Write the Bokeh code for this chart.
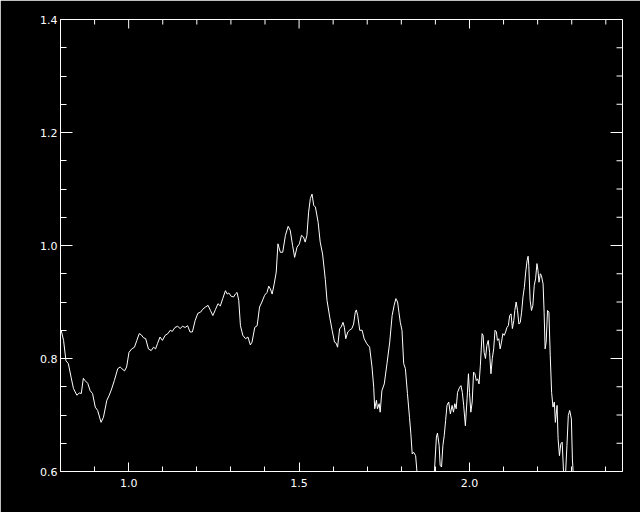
from math import pi
from bokeh.plotting import figure
from bokeh.models import LinearAxis, FixedTicker, Range1d
from bokeh.embed import file_html
from bokeh.resources import INLINE

# Spectrum (wavelength, flux)
wave = [
    0.802, 0.809, 0.816, 0.823, 0.831, 0.838, 0.848, 0.855, 0.861, 0.867,
    0.872, 0.880, 0.887, 0.894, 0.902, 0.909, 0.919, 0.926, 0.936, 0.943,
    0.950, 0.958, 0.968, 0.975, 0.980, 0.988, 0.994, 1.001, 1.009, 1.017,
    1.024, 1.031, 1.037, 1.043, 1.050, 1.058, 1.066, 1.073, 1.079, 1.085,
    1.092, 1.099, 1.107, 1.115, 1.122, 1.128, 1.136, 1.144, 1.151, 1.158,
    1.166, 1.173, 1.180, 1.187, 1.195, 1.203,
    1.211, 1.217, 1.225, 1.233, 1.240, 1.247, 1.255, 1.262, 1.269, 1.276,
    1.284, 1.289, 1.294, 1.301, 1.308, 1.313, 1.318, 1.323, 1.328, 1.335,
    1.343, 1.350, 1.357, 1.362, 1.370, 1.377, 1.384, 1.391, 1.399, 1.406,
    1.411, 1.416, 1.421, 1.427, 1.433, 1.438, 1.445, 1.452, 1.460, 1.468,
    1.474, 1.481, 1.487, 1.494, 1.501, 1.507, 1.513, 1.518, 1.523, 1.528,
    1.533, 1.538, 1.543, 1.548, 1.556, 1.562, 1.569, 1.577, 1.582, 1.590,
    1.597, 1.604, 1.609, 1.613, 1.619, 1.623, 1.629, 1.633, 1.637, 1.643,
    1.648, 1.655, 1.660, 1.665, 1.668, 1.672, 1.678, 1.685, 1.691, 1.699,
    1.707, 1.714, 1.719, 1.722, 1.727, 1.730, 1.735, 1.738, 1.743, 1.750,
    1.758, 1.766, 1.773, 1.779, 1.784, 1.789, 1.793, 1.797, 1.802, 1.807,
    1.812, 1.818, 1.824, 1.828, 1.832, 1.836, 1.842, 1.846, 1.856, 1.885,
    1.897, 1.903, 1.906, 1.911, 1.914, 1.918, 1.922, 1.926, 1.930, 1.934,
    1.939, 1.944, 1.949, 1.953, 1.957, 1.961, 1.965, 1.971, 1.975, 1.979,
    1.983, 1.988, 1.993, 1.997, 2.000, 2.004, 2.008, 2.012, 2.016, 2.020,
    2.024, 2.028, 2.032, 2.037, 2.040, 2.043, 2.047, 2.051, 2.055, 2.059,
    2.063, 2.067, 2.071, 2.075, 2.079, 2.082, 2.086, 2.090, 2.094, 2.098,
    2.102, 2.106, 2.110, 2.114, 2.118, 2.122, 2.126, 2.130, 2.133, 2.137,
    2.141, 2.145, 2.149, 2.153, 2.157, 2.161, 2.165, 2.169, 2.172, 2.174,
    2.178, 2.182, 2.186, 2.190, 2.194, 2.198, 2.201, 2.204, 2.208, 2.211,
    2.216, 2.219, 2.222, 2.225, 2.229, 2.233, 2.237, 2.241, 2.245, 2.249,
    2.252, 2.257, 2.260, 2.264, 2.268, 2.272, 2.276, 2.281, 2.286, 2.290,
    2.294, 2.299, 2.302, 2.305, 2.309,
]
flux = [
    0.850, 0.832, 0.796, 0.791, 0.767, 0.747, 0.735, 0.739, 0.738, 0.765,
    0.761, 0.756, 0.743, 0.738, 0.714, 0.708, 0.687, 0.696, 0.726, 0.735,
    0.746, 0.761, 0.782, 0.785, 0.782, 0.778, 0.785, 0.811, 0.817, 0.820,
    0.832, 0.844, 0.842, 0.837, 0.835, 0.817, 0.814, 0.820, 0.817, 0.827,
    0.838, 0.832, 0.841, 0.844, 0.850, 0.848, 0.855, 0.857, 0.853, 0.857,
    0.855, 0.858, 0.847, 0.847, 0.867, 0.880,
    0.882, 0.887, 0.891, 0.894, 0.885, 0.876, 0.887, 0.897, 0.893, 0.906,
    0.920, 0.914, 0.916, 0.910, 0.909, 0.914, 0.917, 0.903, 0.858, 0.841,
    0.835, 0.838, 0.824, 0.829, 0.855, 0.858, 0.891, 0.900, 0.912, 0.917,
    0.928, 0.923, 0.914, 0.932, 0.953, 1.003, 0.988, 0.988, 1.018, 1.034,
    1.027, 1.000, 0.979, 0.997, 1.003, 1.018, 1.015, 1.006, 1.018, 1.059,
    1.083, 1.091, 1.071, 1.068, 1.041, 1.006, 0.985, 0.940, 0.903, 0.873,
    0.850, 0.829, 0.827, 0.820, 0.853, 0.855, 0.864, 0.855, 0.835, 0.847,
    0.850, 0.853, 0.861, 0.882, 0.886, 0.876, 0.850, 0.850, 0.835, 0.826,
    0.820, 0.785, 0.749, 0.711, 0.726, 0.711, 0.720, 0.705, 0.743, 0.755,
    0.791, 0.829, 0.876, 0.894, 0.906, 0.900, 0.882, 0.864, 0.850, 0.791,
    0.782, 0.738, 0.696, 0.667, 0.631, 0.634, 0.628, 0.599, 0.570, 0.570,
    0.599, 0.661, 0.668, 0.646, 0.611, 0.608, 0.646, 0.664, 0.690, 0.717,
    0.723, 0.702, 0.717, 0.705, 0.720, 0.711, 0.740, 0.749, 0.752, 0.740,
    0.717, 0.681, 0.729, 0.773, 0.740, 0.705, 0.723, 0.776, 0.773, 0.761,
    0.764, 0.755, 0.788, 0.844, 0.841, 0.811, 0.800, 0.823, 0.832, 0.811,
    0.773, 0.800, 0.817, 0.850, 0.847, 0.832, 0.835, 0.817, 0.829, 0.844,
    0.841, 0.847, 0.855, 0.858, 0.876, 0.879, 0.853, 0.867, 0.885, 0.900,
    0.885, 0.861, 0.864, 0.882, 0.909, 0.926, 0.953, 0.973, 0.981, 0.965,
    0.903, 0.885, 0.894, 0.929, 0.941, 0.968, 0.956, 0.935, 0.950, 0.947,
    0.932, 0.882, 0.817, 0.829, 0.885, 0.882, 0.805, 0.740, 0.714, 0.723,
    0.687, 0.717, 0.658, 0.628, 0.649, 0.652, 0.599, 0.585, 0.646, 0.699,
    0.708, 0.693, 0.622, 0.590, 0.570,
]

x_min, x_max = 0.8, 2.449
y_min, y_max = 0.6, 1.4
x_major = [1.0, 1.5, 2.0]
x_minor = [0.9, 1.1, 1.2, 1.3, 1.4, 1.6, 1.7, 1.8, 1.9, 2.1, 2.2, 2.3, 2.4]
x_labels = ["1.0", "1.5", "2.0"]
y_major = [0.6, 0.8, 1.0, 1.2, 1.4]
y_minor = [0.65, 0.7, 0.75, 0.85, 0.9, 0.95, 1.05, 1.1, 1.15, 1.25, 1.3, 1.35]
y_labels = ["0.6", "0.8", "1.0", "1.2", "1.4"]

W, H = 640, 512
p = figure(width=W, height=H, output_backend="svg", toolbar_location=None,
           x_range=Range1d(x_min, x_max), y_range=Range1d(y_min, y_max),
           x_axis_location=None, y_axis_location=None,
           min_border_left=60, min_border_right=18,
           min_border_top=19, min_border_bottom=41)
p.background_fill_color = "black"
p.border_fill_color = "black"
p.outline_line_color = "white"
p.outline_line_width = 1
p.xgrid.visible = False
p.ygrid.visible = False

p.line(wave, flux, line_color="white", line_width=1)

FONT = "DejaVu Sans"

def make_axis(major, minor, labels, tin, tmin, standoff):
    ax = LinearAxis(ticker=FixedTicker(ticks=major, minor_ticks=minor))
    ax.axis_line_color = "white"
    ax.axis_line_width = 1
    ax.major_tick_line_color = "white"
    ax.minor_tick_line_color = "white"
    ax.major_tick_in = tin
    ax.major_tick_out = 0
    ax.minor_tick_in = tmin
    ax.minor_tick_out = 0
    ax.major_label_overrides = {v: s for v, s in zip(major, labels)}
    ax.major_label_text_color = "white"
    ax.major_label_text_font = FONT
    ax.major_label_text_font_size = "11px"
    ax.major_label_standoff = standoff
    return ax

p.add_layout(make_axis(x_major, x_minor, x_labels, 9, 5, 7), "below")
p.add_layout(make_axis(y_major, y_minor, y_labels, 12, 6, 3), "left")

# inward ticks on the top and right frame edges (clipped to the frame)
def edge_ticks(xs, ys, size, angle):
    p.scatter(xs, ys, marker="dash", size=size, angle=angle,
              line_color="white", line_width=1)

edge_ticks(x_major, [y_max] * len(x_major), 18, pi / 2)
edge_ticks(x_minor, [y_max] * len(x_minor), 10, pi / 2)
edge_ticks([x_max] * len(y_major), y_major, 24, 0)
edge_ticks([x_max] * len(y_minor), y_minor, 12, 0)

html = file_html(p, INLINE)
html = html.replace("<body>", '<body style="background-color:#000000">', 1)
open("out.html", "w").write(html)
